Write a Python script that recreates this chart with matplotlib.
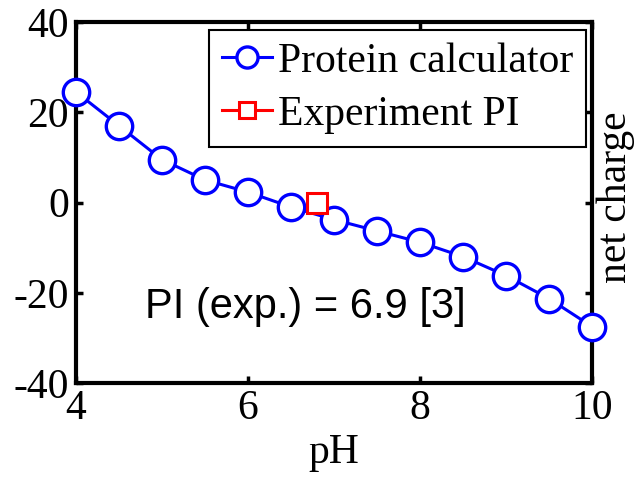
import matplotlib
matplotlib.use("Agg")
import matplotlib.pyplot as plt

ph = [4, 4.5, 5, 5.5, 6, 6.5, 7, 7.5, 8, 8.5, 9, 9.5, 10]
charge = [24.5, 17.0, 9.5, 5.0, 2.3, -1.0, -3.8, -6.3, -8.8, -12.0, -16.2, -21.3, -27.5]
exp_pi_x = [6.8]
exp_pi_y = [0]
xticks = [4, 6, 8, 10]
yticks = [-40, -20, 0, 20, 40]

plt.rcParams['font.family'] = ['Liberation Serif', 'DejaVu Serif']
plt.rcParams['axes.unicode_minus'] = False

fig = plt.figure(figsize=(6.35, 4.78), dpi=100)
ax = fig.add_axes([76/635, 1-383/478, (592-76)/635, (383-22)/478])

ax.plot(ph, charge, '-o', color='blue', lw=2.2, ms=19, mfc='white', mec='blue', mew=2.4,
        label='Protein calculator', zorder=3, clip_on=False)
ax.plot(exp_pi_x, exp_pi_y, '-s', color='red', lw=2.2, ms=14, mfc='white', mec='red', mew=2.2,
        label='Experiment PI', zorder=4, clip_on=False)

ax.set_xlim(4, 10)
ax.set_ylim(-40, 40)
ax.set_xticks(xticks)
ax.set_yticks(yticks)
ax.tick_params(direction='in', length=5, width=2.5, labelsize=30, top=True, right=True, pad=5)
for s in ax.spines.values():
    s.set_linewidth(3)
    s.set_zorder(2)
ax.set_xlabel('pH', fontsize=30, labelpad=4)

fig.text(616/635, 1-197/478, 'net charge', rotation=90, ha='center', va='center', fontsize=30)

ax.text(0.444, 0.21, 'PI (exp.) = 6.9 [3]', transform=ax.transAxes, ha='center', va='center',
        fontsize=30, family=['Liberation Sans', 'DejaVu Sans'])

leg = ax.legend(loc='upper right', bbox_to_anchor=(0.988, 0.978), borderaxespad=0,
                fontsize=30, frameon=True, fancybox=False, edgecolor='black',
                handlelength=1.2, handletextpad=0.15, borderpad=0.3, labelspacing=0.35,
                markerscale=0.8, framealpha=1)
leg.get_frame().set_linewidth(1.5)
leg.get_frame().set_edgecolor('black')

fig.savefig('out.png', dpi=100)
